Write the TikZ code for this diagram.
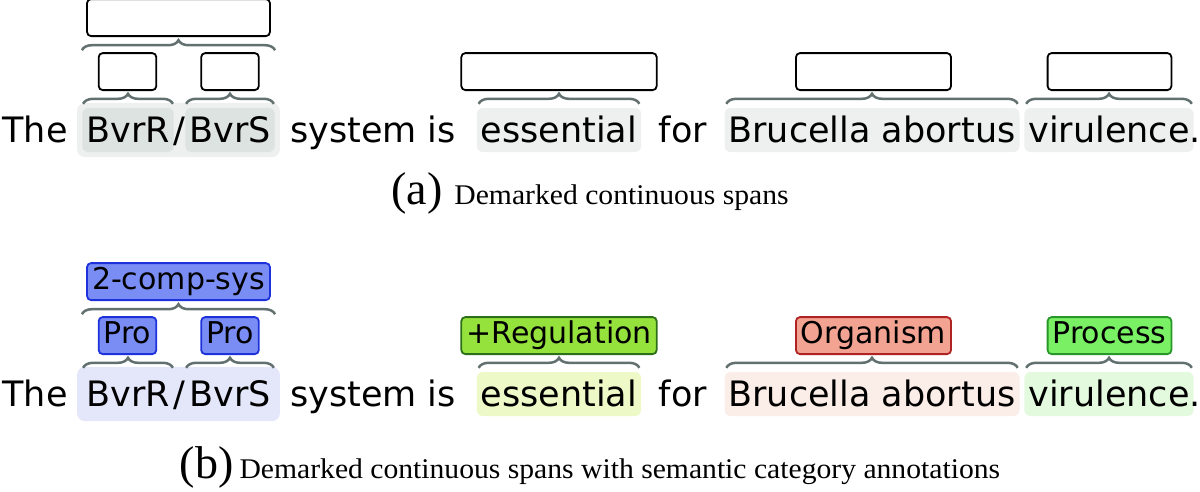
\documentclass[tikz,border=0pt]{standalone}
\usepackage{fontspec}
\setmainfont{DejaVu Sans}
\newfontfamily\capfont[FakeStretch=1.04]{Liberation Serif}
\newfontfamily\subfont{Liberation Serif}
\usetikzlibrary{decorations.pathreplacing,fit,backgrounds,calc}
\definecolor{hlgray}{RGB}{237,240,238}
\definecolor{hldark}{RGB}{221,227,225}
\definecolor{bracegray}{RGB}{98,112,112}
\definecolor{cblue}{RGB}{122,141,245}
\definecolor{dblue}{RGB}{30,50,220}
\definecolor{creg}{RGB}{150,226,60}
\definecolor{dreg}{RGB}{45,110,25}
\definecolor{corg}{RGB}{243,163,145}
\definecolor{dorg}{RGB}{175,35,35}
\definecolor{cproc}{RGB}{122,240,100}
\definecolor{dproc}{RGB}{40,150,40}
\definecolor{hlblue}{RGB}{228,231,250}
\definecolor{hlyel}{RGB}{237,250,200}
\definecolor{hlpeach}{RGB}{251,237,232}
\definecolor{hlgreen}{RGB}{228,250,222}
\begin{document}
\begin{tikzpicture}[x=1pt,y=-1pt]
    \tikzset{
    tok/.style={anchor=base, inner xsep=4pt, inner ysep=4pt, text height=30pt, text depth=6pt, font=\fontsize{35}{42}\selectfont},
    hl/.style={tok, rounded corners=6pt, fill=#1},
    lbl/.style 2 args={draw=#1, fill=#2, anchor=south, rounded corners=4pt, line width=1.8pt, inner xsep=5pt, inner ysep=3.5pt, text height=23pt, text depth=7pt, font=\fontsize{30}{36}\selectfont},
    brc/.style={draw=bracegray, line width=2.5pt, decorate, decoration={brace, amplitude=10pt}},
    spanbox/.style={inner sep=5pt, rounded corners=8pt, fill=#1},
    captxt/.style={anchor=base, inner sep=0pt},
    }
    \useasboundingbox (0,0) rectangle (1200,491);

    % (a) plain spans
    \node[tok] (a-the) at (35,142) {The};
    \node[hl=hldark] (a-bvrr) at (128,142) {BvrR};
    \node[tok] (a-slash) at (179.5,142) {/};
    \node[hl=hldark] (a-bvrs) at (230,142) {BvrS};
    \node[tok] (a-sys) at (373,142) {system is};
    \node[hl=hlgray] (a-ess) at (559,142) {essential};
    \node[tok] (a-for) at (683,142) {for};
    \node[hl=hlgray] (a-bru) at (872,142) {Brucella abortus};
    \node[hl=hlgray] (a-vir) at (1109,142) {virulence};
    \node[tok] (a-dot) at (1195.5,142) {.};
    \begin{scope}[on background layer]
    \node[spanbox=hlgray, fit=(a-bvrr)(a-bvrs)] (a-span) {};
    \end{scope}

    \node[lbl={black}{white}] (a-pro1) at (127.5,91) {\phantom{Pro}};
    \node[lbl={black}{white}] (a-pro2) at (230,91) {\phantom{Pro}};
    \node[lbl={black}{white}] (a-comp) at (178.5,37) {\phantom{2-comp-sys}};
    \node[lbl={black}{white}] (a-reg) at (559,91) {\phantom{+Regulation}};
    \node[lbl={black}{white}] (a-org) at (873.5,91) {\phantom{Organism}};
    \node[lbl={black}{white}] (a-proc) at (1109.5,91) {\phantom{Process}};

    \draw[brc] ([xshift=1pt,yshift=4pt]a-bvrr.north west) -- ([xshift=-1pt,yshift=4pt]a-bvrr.north east);
    \draw[brc] ([xshift=1pt,yshift=4pt]a-bvrs.north west) -- ([xshift=-1pt,yshift=4pt]a-bvrs.north east);
    \draw[brc] ([xshift=2pt,yshift=4pt]a-ess.north west) -- ([xshift=-2pt,yshift=4pt]a-ess.north east);
    \draw[brc] ([xshift=2pt,yshift=4pt]a-bru.north west) -- ([xshift=-2pt,yshift=4pt]a-bru.north east);
    \draw[brc] ([xshift=2pt,yshift=4pt]a-vir.north west) -- ([xshift=-2pt,yshift=4pt]a-vir.north east);
    \coordinate (a-l) at ($(a-span.west |- a-pro1.north)+(5,-2)$);
    \coordinate (a-r) at ($(a-span.east |- a-pro1.north)+(-5,-2)$);
    \draw[brc] (a-l) -- (a-r);

    \node[captxt] (cap-a) at (590,204) {{\subfont\fontsize{46}{50}\selectfont (a)}\hspace{12pt}{\capfont\fontsize{28.5}{32}\selectfont Demarked continuous spans}};

    % (b) spans with categories
    \node[tok] (b-the) at (35,406) {The};
    \node[tok] (b-bvrr) at (128,406) {BvrR};
    \node[tok] (b-slash) at (179.5,406) {/};
    \node[tok] (b-bvrs) at (230,406) {BvrS};
    \node[tok] (b-sys) at (373,406) {system is};
    \node[hl=hlyel] (b-ess) at (559,406) {essential};
    \node[tok] (b-for) at (683,406) {for};
    \node[hl=hlpeach] (b-bru) at (872,406) {Brucella abortus};
    \node[hl=hlgreen] (b-vir) at (1109,406) {virulence};
    \node[tok] (b-dot) at (1195.5,406) {.};
    \begin{scope}[on background layer]
    \node[spanbox=hlblue, fit=(b-bvrr)(b-bvrs)] (b-span) {};
    \end{scope}

    \node[lbl={dblue}{cblue}] (b-pro1) at (127.5,355) {Pro};
    \node[lbl={dblue}{cblue}] (b-pro2) at (230,355) {Pro};
    \node[lbl={dblue}{cblue}] (b-comp) at (178.5,301) {2-comp-sys};
    \node[lbl={dreg}{creg}] (b-reg) at (559,355) {+Regulation};
    \node[lbl={dorg}{corg}] (b-org) at (873.5,355) {Organism};
    \node[lbl={dproc}{cproc}] (b-proc) at (1109.5,355) {Process};

    \draw[brc] ([xshift=1pt,yshift=4pt]b-bvrr.north west) -- ([xshift=-1pt,yshift=4pt]b-bvrr.north east);
    \draw[brc] ([xshift=1pt,yshift=4pt]b-bvrs.north west) -- ([xshift=-1pt,yshift=4pt]b-bvrs.north east);
    \draw[brc] ([xshift=2pt,yshift=4pt]b-ess.north west) -- ([xshift=-2pt,yshift=4pt]b-ess.north east);
    \draw[brc] ([xshift=2pt,yshift=4pt]b-bru.north west) -- ([xshift=-2pt,yshift=4pt]b-bru.north east);
    \draw[brc] ([xshift=2pt,yshift=4pt]b-vir.north west) -- ([xshift=-2pt,yshift=4pt]b-vir.north east);
    \coordinate (b-l) at ($(b-span.west |- b-pro1.north)+(5,-2)$);
    \coordinate (b-r) at ($(b-span.east |- b-pro1.north)+(-5,-2)$);
    \draw[brc] (b-l) -- (b-r);

    \node[captxt] (cap-b) at (590,478) {{\subfont\fontsize{46}{50}\selectfont (b)}\hspace{6pt}{\capfont\fontsize{28.5}{32}\selectfont Demarked continuous spans with semantic category annotations}};
\end{tikzpicture}
\end{document}
